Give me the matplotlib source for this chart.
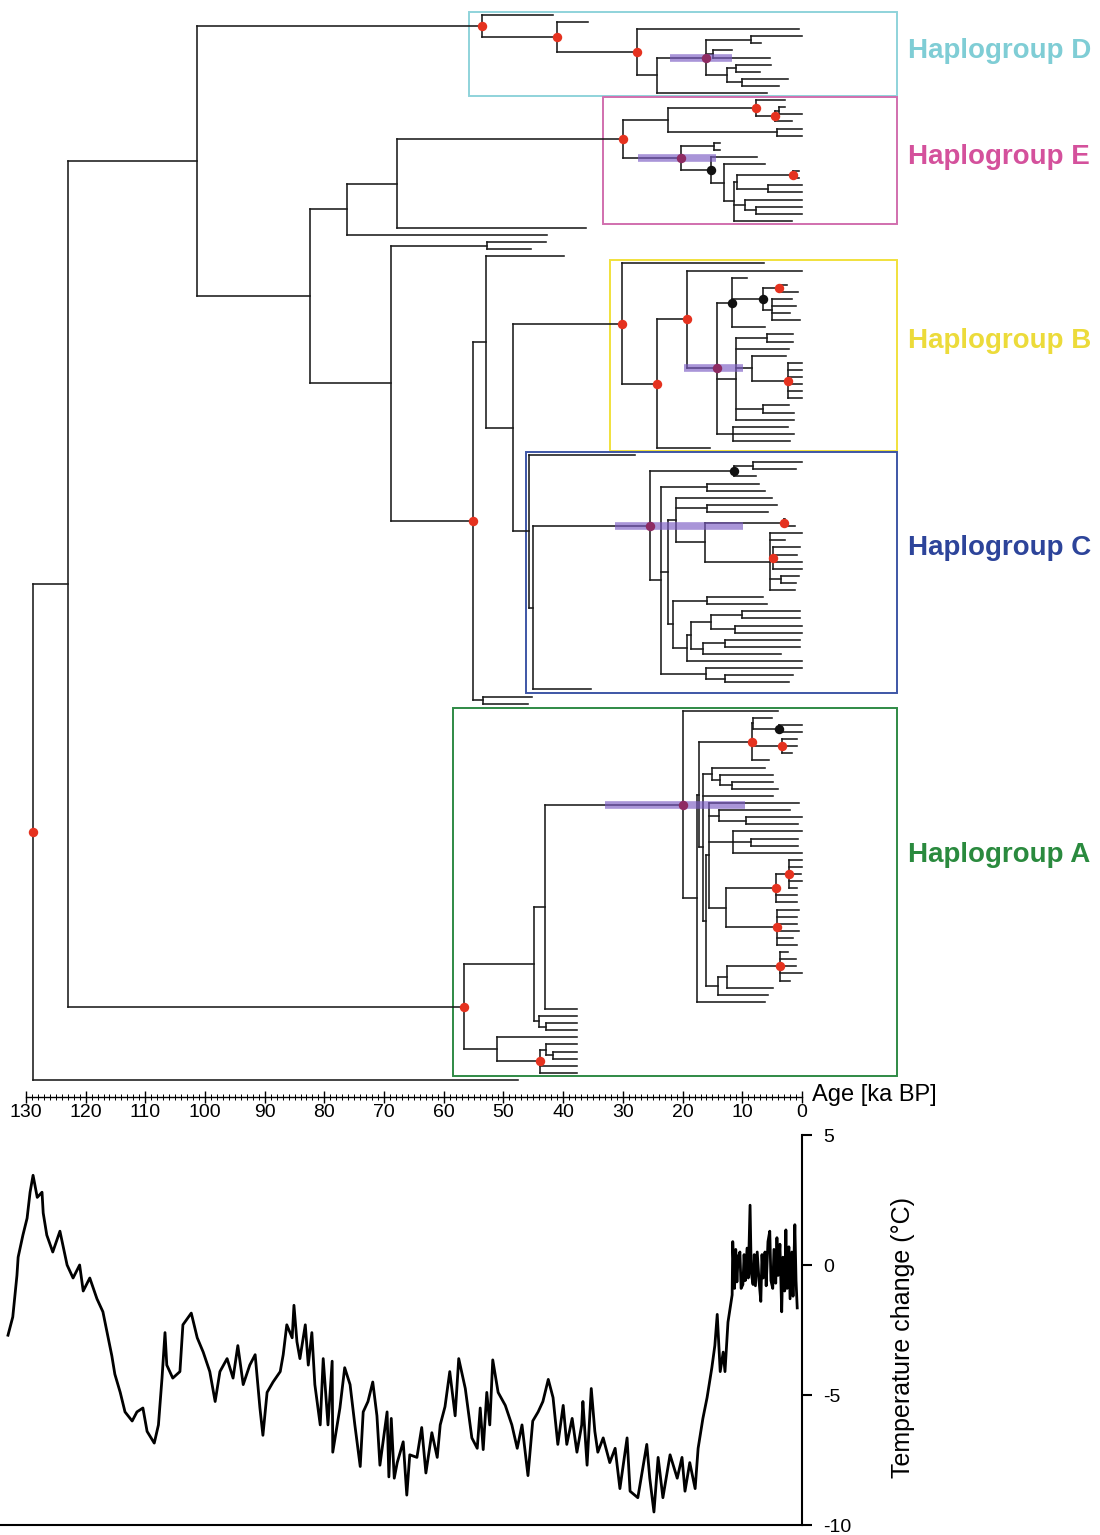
import matplotlib
matplotlib.use("Agg")
import matplotlib.pyplot as plt
from matplotlib.collections import LineCollection
from matplotlib.patches import Rectangle
from matplotlib import font_manager

# ---------------- data ----------------
# tree written newick-like: "(children)age[flag]", tips = age at tip end (ka BP)
# flags: r = red node, b = black node, p = purple node (with HPD bar)
tree_D = "(41.7,(35.8,(0.5,(((0,6.9)8.5,(11.7,5.4)14.9,((5.2,7.0)11.1,(2.3,3.8)10.1)12.6)16.1p,5.9)24.3)27.6r)41.0r)53.6r"
tree_E = ("(((2.9,((2.9,0)3.9,1.7)4.5r)7.7r,(0,0)4.2)22.4,((13.7,13.7)14.7,(7.5,(6.2,(((0.5,0.5)1.5r,(0,0)5.7)10.9,"
          "(0,(0,0)7.7)9.5,1.7)11.4)13.1)15.2b)20.3p)30.0r")
tree_B = ("(6.4,((0,((9.2,((2.5,0.7)3.9r,(1.7,1.0,2.0,0.3)5.0)6.5b,6.2)11.7b,((1.5,1.5)5.9,2.2,(2.7,(0,0,0,0,0,0)2.3r)8.4,"
          "(2.2,1.4)6.5,1.4)11.0,(2.3,1.4,2.0)11.6)14.3p)19.3r,15.4)24.3r)30.2r")
tree_C = ("(((0,1.0)8.2,7.7)11.4b,((7.2,6.2)15.9,((5.0,(4.2,5.7)15.9,((2.8,1.2)3.0r,(0,2.8,(0.3,0.8,0,0)4.9r,(0.5,1.0)3.5,1.2)5.4)16.2)21.1,"
          "((6.5,5.9)15.9,((((0.3,0.3)10.0,(0,0)11.2)15.2,((0.3,0.3)12.9,3.5)16.6)18.6,0)19.3)21.6)22.5,(0,(1.5,2.2)12.9)16.1)23.6)25.5p")
tree_UA = ("(4.0,((((5.0,(0,0)3.9b)8.2,(0.8,0.8,1.7)3.4r,5.5)8.4r,((6.2,(4.9,(4.9,4.0)11.7)13.7)15.0,4.9,((0.5,(2.0,(0,0.7)9.4)13.9,"
           "(0,(0.7,0.7)8.5,0)11.6,(((0,0,0.2,0,0.8)2.2r,0.8,0.8)4.4r,(0.5,0.8,0.8,0.5,1.5,0.8)4.2r)12.7)15.6,"
           "(((2.3,1.0,1.0,0,2.0)3.7r,4.9)12.5,5.7)14.1)16.0)16.6)17.3,6.2)17.6)20.0p")
tree_A = "(((" + tree_UA + ",37.7)43.0,(37.7,(37.7,37.7)42.9)44.1)44.9,(37.7,((37.7,(37.7,37.7)41.7)42.9,37.7,37.7)43.9r)51.1)56.6r"
tree_all = ("((({D},((({E},36.2)67.8,42.7)76.2,((42.9,45.4)52.8,((39.9,({B},(28.0,({C},35.3)45.1)45.8)48.4)52.9,"
            "(45.2,45.9)53.4)55.1r)68.8)82.4)101.3,{A})122.9,47.6)128.8r").format(
    D=tree_D, E=tree_E, B=tree_B, C=tree_C, A=tree_A)

# HPD intervals of purple nodes (order D, E, B, C, A)
hpd_old = [22.1, 27.5, 19.8, 31.3, 33.0]
hpd_young = [11.7, 14.4, 9.9, 9.9, 9.5]

# haplogroup boxes
hap_names = ["Haplogroup D", "Haplogroup E", "Haplogroup B", "Haplogroup C", "Haplogroup A"]
hap_first_tip = [0, 12, 35, 62, 98]
hap_last_tip = [11, 29, 61, 95, 149]
hap_left_age = [55.8, 33.3, 32.2, 46.2, 58.5]
hap_label_tip = [5.1, 20.0, 45.9, 75.1, 118.3]
hap_box_color = ["#8fd3db", "#d16fae", "#f1e13c", "#3e56a6", "#2f8a45"]
hap_text_color = ["#7fcdd5", "#d4519c", "#ecdb3a", "#2d449a", "#2a8a3e"]

# temperature change (deg C) vs age (ka BP)
temp_age = [133.0, 132.2, 131.5, 131.3, 130.5, 129.8, 129.3, 128.8, 128.1, 127.3, 127.1, 126.5, 125.5, 124.3, 123.1,
            122.1, 121.0, 120.4, 119.3, 118.1, 117.1, 116.4, 115.6, 115.1, 114.2, 113.4, 112.2, 111.4, 110.4, 109.7,
            108.5, 107.8, 107.2, 106.7, 106.4, 105.4, 104.2, 103.7, 102.3, 101.3, 100.3, 99.2, 98.3, 97.5, 96.3,
            95.3, 94.5, 93.6, 92.5, 91.6, 90.8, 90.3, 89.6, 88.6, 87.4, 86.9, 86.3, 85.4, 85.1, 84.6, 84.1, 83.2,
            82.7, 82.1, 81.6, 80.7, 80.2, 79.4, 78.7, 78.6, 77.4, 76.6, 75.7, 74.9, 74.0, 73.5, 72.7, 71.9, 71.2,
            70.7, 69.5, 69.2, 68.8, 68.3, 67.8, 66.8, 66.2, 65.7, 64.5, 63.7, 63.0, 62.0, 61.1, 60.6, 59.8, 59.0,
            58.1, 57.5, 56.4, 55.3, 54.4, 53.9, 53.4, 52.8, 52.3, 51.8, 50.9, 49.7, 48.6, 47.7, 46.9, 45.9, 45.1,
            44.2, 43.4, 42.5, 41.7, 40.9, 40.0, 39.4, 38.5, 37.7, 36.9, 36.7, 36.0, 35.3, 34.7, 34.2, 33.3, 32.2,
            31.3, 30.5, 29.3, 28.8, 27.5, 26.0, 25.5, 24.8, 24.1, 23.3, 22.1, 20.9, 20.1, 19.6, 18.8, 17.9, 17.4,
            16.6, 15.9, 15.1, 14.6, 14.2, 13.7, 13.2, 12.9, 12.4, 11.7, 11.6, 11.3, 11.1, 10.9, 10.7, 10.4, 10.2,
            9.9, 9.7, 9.5, 9.2, 9.0, 8.7, 8.5, 8.2, 8.0, 7.8, 7.5, 7.2, 6.9, 6.7, 6.5, 6.2, 6.0, 5.7, 5.4, 5.2,
            4.9, 4.7, 4.4, 4.2, 4.0, 3.7, 3.4, 3.2, 2.9, 2.7, 2.5, 2.2, 2.0, 1.7, 1.5, 1.2, 1.0, 0.8]
temp_val = [-2.7, -2.0, -0.4, 0.3, 1.15, 1.8, 2.8, 3.45, 2.6, 2.8, 2.0, 1.15, 0.5, 1.3, 0.0,
            -0.5, 0.0, -1.0, -0.5, -1.3, -1.8, -2.6, -3.5, -4.2, -4.9, -5.65, -6.0, -5.65, -5.5, -6.4,
            -6.85, -6.15, -4.35, -2.6, -3.85, -4.35, -4.1, -2.3, -1.85, -2.8, -3.35, -4.1, -5.25, -4.1, -3.6,
            -4.35, -3.1, -4.6, -3.85, -3.45, -5.5, -6.55, -4.9, -4.5, -4.1, -3.45, -2.3, -2.8, -1.55, -2.95, -3.6, -2.3,
            -3.85, -2.6, -4.6, -6.15, -3.6, -6.15, -3.7, -7.2, -5.5, -3.95, -4.6, -6.15, -7.75, -5.65, -5.25, -4.5, -5.8,
            -7.7, -5.65, -8.15, -5.9, -8.2, -7.6, -6.8, -8.85, -7.3, -7.4, -6.25, -8.0, -6.45, -7.4, -6.15, -5.45, -4.1,
            -5.8, -3.6, -4.75, -6.65, -7.05, -5.5, -7.1, -4.9, -6.15, -3.65, -4.9, -5.4, -6.15, -7.05, -6.15, -8.1, -6.0,
            -5.65, -5.25, -4.4, -5.1, -6.9, -5.4, -6.9, -5.9, -7.2, -6.15, -5.25, -7.7, -4.75, -6.4, -7.2, -6.65, -7.6,
            -7.05, -8.6, -6.65, -8.7, -8.95, -6.9, -8.2, -9.5, -7.4, -8.95, -7.3, -8.2, -7.4, -8.7, -7.6, -8.6, -7.05,
            -5.9, -5.1, -3.95, -3.1, -1.9, -4.1, -3.35, -4.1, -2.2, -1.15, 0.9, -0.9, 0.6, -0.65, 0.3, 0.5, -0.9,
            -0.75, 0.4, -0.6, 0.65, -0.5, 2.3, -0.3, -0.75, 0.4, -0.8, 0.5, -0.6, -1.4, 0.4, -0.5, 0.5, -0.8, 0.9, 1.3, -0.6,
            -0.9, 0.6, -0.7, 1.05, -0.4, 0.8, -1.8, 0.3, -1.0, 1.35, -0.9, 0.7, -1.3, 0.5, -1.2, 1.55, -0.6, -1.65]


# ---------------- tree helpers ----------------
def parse_tree(s):
    pos = 0

    def node():
        nonlocal pos
        kids = []
        if s[pos] == "(":
            pos += 1
            kids.append(node())
            while s[pos] == ",":
                pos += 1
                kids.append(node())
            pos += 1
        j = pos
        while pos < len(s) and s[pos] in "0123456789.":
            pos += 1
        age = float(s[j:pos])
        flag = ""
        if pos < len(s) and s[pos] in "rbp":
            flag = s[pos]
            pos += 1
        return {"age": age, "kids": kids, "flag": flag}

    return node()


def place(n, count):
    if not n["kids"]:
        n["y"] = count[0]
        count[0] += 1
    else:
        for k in n["kids"]:
            place(k, count)
        n["y"] = (n["kids"][0]["y"] + n["kids"][-1]["y"]) / 2.0


def walk(n, segs, marks):
    if n["kids"]:
        segs.append([(n["age"], n["kids"][0]["y"]), (n["age"], n["kids"][-1]["y"])])
        for k in n["kids"]:
            segs.append([(n["age"], k["y"]), (k["age"], k["y"])])
            walk(k, segs, marks)
    if n["flag"]:
        marks.append((n["flag"], n["age"], n["y"]))


root = parse_tree(tree_all)
place(root, [0])
segs, marks = [], []
walk(root, segs, marks)

# fonts
names = {f.name for f in font_manager.fontManager.ttflist}
narrow = "Liberation Sans Narrow" if "Liberation Sans Narrow" in names else "Liberation Sans"
plt.rcParams["font.family"] = ["Liberation Sans", "DejaVu Sans"]
plt.rcParams["axes.unicode_minus"] = False

W, H = 1100, 1535
fig = plt.figure(figsize=(W / 100, H / 100), dpi=100)

# ---------------- tree panel ----------------
ax = fig.add_axes([0, 1 - 1097 / H, 1, 1097 / H])
ax.set_xlim(802 / 5.97, (802 - W) / 5.97)
ax.set_ylim((1097 - 15) / 7.1, -15 / 7.1)

ax.add_collection(LineCollection(segs, colors="#1a1a1a", linewidths=1.15, capstyle="projecting", zorder=2))

# HPD bars and node dots
purple = [m for m in marks if m[0] == "p"]
purple.sort(key=lambda m: m[2])
for (f, a, y), lo, hi in zip(purple, hpd_old, hpd_young):
    ax.plot([lo, hi], [y, y], color="#7b5cc4", alpha=0.65, lw=5.5, solid_capstyle="butt", zorder=3)
for f, a, y in marks:
    c = {"r": "#e5321f", "b": "#111111", "p": "#8e2b63"}[f]
    ax.plot(a, y, "o", ms=6.8, color=c, mec="none", zorder=4)

# haplogroup boxes
for name, t0, t1, la, ly, bc, tc in zip(hap_names, hap_first_tip, hap_last_tip, hap_left_age,
                                         hap_label_tip, hap_box_color, hap_text_color):
    ax.add_patch(Rectangle((la, t0 - 0.45), -15.9 - la, (t1 - t0) + 0.9, fill=False,
                           ec=bc, lw=1.4, zorder=1))
    ax.text(-17.7, ly, name, color=tc, fontsize=20, fontweight="bold", ha="left", va="center")

for s in ["top", "left", "right"]:
    ax.spines[s].set_visible(False)
ax.spines["bottom"].set_bounds(0, 130)
ax.spines["bottom"].set_linewidth(1.0)
ax.set_yticks([])
ax.set_xticks(range(0, 131, 10))
ax.set_xticks(range(0, 131, 1), minor=True)
ax.tick_params(axis="x", which="major", direction="inout", length=8, width=1, labelsize=14, pad=1)
ax.tick_params(axis="x", which="minor", direction="inout", length=4, width=0.7)
for lab in ax.get_xticklabels():
    lab.set_family(narrow)
ax.text(-1.7, (1095 - 15) / 7.1, "Age [ka BP]", fontsize=17, family=narrow, ha="left", va="center",
        clip_on=False)

# ---------------- temperature panel ----------------
ax2 = fig.add_axes([0, 10 / H, 802 / W, 390 / H])
ax2.plot(temp_age, temp_val, color="black", lw=2.0)
ax2.set_xlim(802 / 5.97, 0)
ax2.set_ylim(-10, 5)
ax2.spines["top"].set_visible(False)
ax2.spines["left"].set_visible(False)
ax2.spines["right"].set_linewidth(1.5)
ax2.spines["bottom"].set_linewidth(1.5)
ax2.yaxis.tick_right()
ax2.set_yticks([-10, -5, 0, 5])
ax2.set_xticks([])
ax2.tick_params(axis="y", direction="out", length=7, width=1.5, labelsize=14, pad=8)
fig.text(903 / W, 1 - 1338 / H, "Temperature change (°C)", rotation=90, fontsize=18,
         ha="center", va="center")

fig.savefig("out.png", dpi=100)
